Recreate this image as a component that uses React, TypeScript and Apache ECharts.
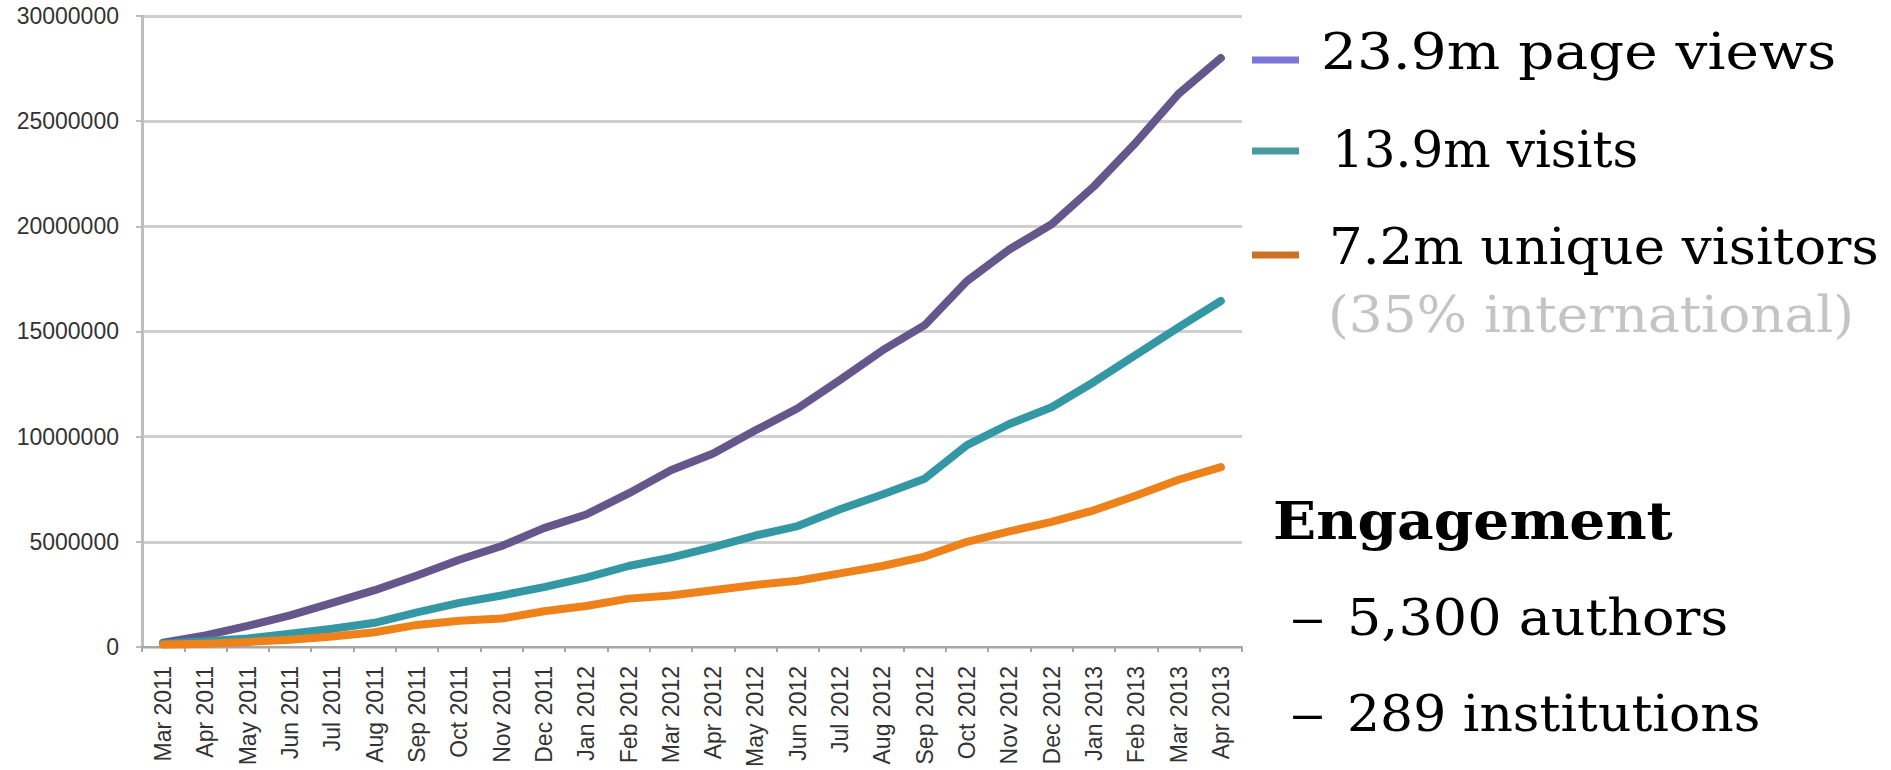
import React, { useEffect, useRef } from "react";
import * as echarts from "echarts";

const categories = [
  "Mar 2011", "Apr 2011", "May 2011", "Jun 2011", "Jul 2011", "Aug 2011",
  "Sep 2011", "Oct 2011", "Nov 2011", "Dec 2011", "Jan 2012", "Feb 2012",
  "Mar 2012", "Apr 2012", "May 2012", "Jun 2012", "Jul 2012", "Aug 2012",
  "Sep 2012", "Oct 2012", "Nov 2012", "Dec 2012", "Jan 2013", "Feb 2013",
  "Mar 2013", "Apr 2013",
];

const pageViews = [
  200000, 550000, 1000000, 1500000, 2100000, 2700000, 3400000, 4150000,
  4800000, 5650000, 6300000, 7300000, 8400000, 9200000, 10300000, 11350000,
  12700000, 14100000, 15300000, 17400000, 18900000, 20100000, 21900000,
  24000000, 26300000, 28000000,
];

const visits = [
  150000, 270000, 400000, 630000, 870000, 1150000, 1650000, 2100000,
  2450000, 2850000, 3300000, 3850000, 4250000, 4750000, 5300000, 5750000,
  6550000, 7250000, 8000000, 9600000, 10600000, 11400000, 12600000,
  13900000, 15200000, 16450000,
];

const uniqueVisitors = [
  120000, 160000, 240000, 350000, 500000, 700000, 1050000, 1250000,
  1350000, 1700000, 1950000, 2300000, 2450000, 2700000, 2950000, 3150000,
  3500000, 3850000, 4300000, 5000000, 5500000, 5950000, 6500000, 7200000,
  7950000, 8550000,
];

const seriesNames = ["page views", "visits", "unique visitors"];
const lineColors = ["#65578c", "#3398a4", "#ee8119"];
const legendColors = ["#7a77d8", "#4a98a0", "#cd7123"];
const legendTexts = ["23.9m page views", "13.9m visits", "7.2m unique visitors"];
const noteText = "(35% international)";
const engagementTitle = "Engagement";
const engagementItems = ["5,300 authors", "289 institutions"];

const yTicks = { min: 0, max: 30000000, interval: 5000000 };

export default function App() {
  const ref = useRef<HTMLDivElement>(null);

  useEffect(() => {
    if (!ref.current) return;
    const chart = echarts.init(ref.current, undefined, { renderer: "svg" });
    const serif = "'DejaVu Serif', 'Liberation Serif', serif";
    const markerY = [60, 151, 255];
    const textX = [1321, 1332, 1329];
    const textY = [52, 150, 247];
    const textScale = [1.13, 1.0, 1.06];

    const txt = (x: number, y: number, text: string, font: string, fill: string, sx = 1) => ({
      type: "text",
      x,
      y,
      scaleX: sx,
      style: {
        text,
        font,
        fill,
        textAlign: "left",
        textVerticalAlign: "middle",
      },
    });

    const graphics: any[] = [];
    legendTexts.forEach((t, i) => {
      graphics.push({
        type: "rect",
        shape: { x: 1252, y: markerY[i] - 3.5, width: 47, height: 7 },
        style: { fill: legendColors[i] },
      });
      graphics.push(txt(textX[i], textY[i], t, `50px ${serif}`, "#000000", textScale[i]));
    });
    graphics.push(txt(1328, 315, noteText, `50px ${serif}`, "#c4c4c4", 1.065));
    graphics.push(txt(1273, 521, engagementTitle, `bold 52px ${serif}`, "#000000", 1.09));
    const itemY = [618, 714];
    const itemScale = [1.08, 1.04];
    engagementItems.forEach((t, i) => {
      graphics.push(txt(1290, itemY[i], "–", `50px ${serif}`, "#000000", 1.4));
      graphics.push(txt(1347, itemY[i], t, `50px ${serif}`, "#000000", itemScale[i]));
    });

    const seriesData = [pageViews, visits, uniqueVisitors];

    chart.setOption({
      animation: false,
      backgroundColor: "#ffffff",
      grid: { left: 142, top: 16, width: 1100, height: 633 },
      xAxis: {
        type: "category",
        data: categories,
        boundaryGap: true,
        axisLine: { show: true, lineStyle: { color: "#a6a6a6", width: 2 } },
        axisTick: { show: true, length: 5, lineStyle: { color: "#a6a6a6", width: 2 } },
        axisLabel: {
          rotate: 90,
          interval: 0,
          margin: 19,
          fontSize: 23,
          fontFamily: "'Liberation Sans', Arial, sans-serif",
          color: "#333333",
        },
        splitLine: { show: false },
      },
      yAxis: {
        type: "value",
        min: yTicks.min,
        max: yTicks.max,
        interval: yTicks.interval,
        axisLine: { show: true, lineStyle: { color: "#bdbdbd", width: 3 } },
        axisTick: { show: true, inside: false, length: 6, lineStyle: { color: "#bdbdbd", width: 2 } },
        axisLabel: {
          margin: 23,
          fontSize: 23,
          fontFamily: "'Liberation Sans', Arial, sans-serif",
          color: "#333333",
          formatter: (v: number) => String(v),
        },
        splitLine: { show: true, lineStyle: { color: "#cfcfcf", width: 3 } },
      },
      series: seriesData.map((d, i) => ({
        name: seriesNames[i],
        type: "line",
        data: d,
        showSymbol: false,
        symbol: "none",
        smooth: false,
        lineStyle: { color: lineColors[i], width: 8, cap: "round", join: "round" },
        itemStyle: { color: lineColors[i] },
      })),
      graphic: graphics,
    });

    return () => chart.dispose();
  }, []);

  return (
    <div
      ref={ref}
      style={{ position: "fixed", left: 0, top: 0, width: 1891, height: 770, background: "#fff" }}
    />
  );
}
